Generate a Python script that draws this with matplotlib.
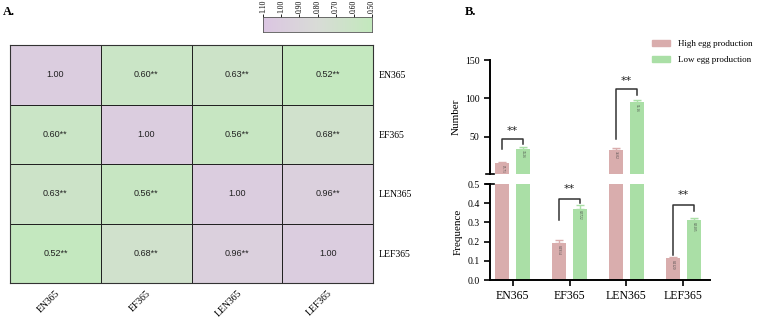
import numpy as np
import matplotlib
matplotlib.use("Agg")
import matplotlib.pyplot as plt
from matplotlib.colors import LinearSegmentedColormap
from matplotlib.patches import Patch

# data
traits = ["EN365", "EF365", "LEN365", "LEF365"]
corr = [
    [1.00, 0.60, 0.63, 0.52],
    [0.60, 1.00, 0.56, 0.68],
    [0.63, 0.56, 1.00, 0.96],
    [0.52, 0.68, 0.96, 1.00],
]
cbar_ticks = [1.10, 1.00, 0.90, 0.80, 0.70, 0.60, 0.50]

high_vals = [15.71, 0.1914, 33.02, 0.1120]
low_vals = [34.26, 0.3722, 95.16, 0.3105]
high_err = [2.0, 0.015, 2.0, 0.008]
low_err = [2.5, 0.02, 2.5, 0.01]
number_idx = [0, 2]   # shown on "Number" scale
freq_idx = [1, 3]     # shown on "Frequence" scale

# bracket heights: (bar, y_top, left leg end, right leg end)
brackets_num = [(0, 47, 34, 41), (2, 112, 47, 104)]
brackets_freq = [(1, 0.42, 0.31, 0.40), (3, 0.39, 0.13, 0.36)]

serif = "Liberation Serif"
pink = "#d9adad"
green = "#aadfa6"

W, H = 759, 318
fig = plt.figure(figsize=(W / 100, H / 100), dpi=100)

def box(x0, y0, x1, y1):
    return [x0 / W, 1 - y1 / H, (x1 - x0) / W, (y1 - y0) / H]

# ---------- A. heatmap ----------
cmap = LinearSegmentedColormap.from_list(
    "pg", [(0.0, "#c3e9bd"), (0.5, "#d9dcd7"), (1.0, "#dcc6e3")])
ax = fig.add_axes(box(10, 45, 373, 283))
arr = np.array(corr)
ax.pcolormesh(arr, cmap=cmap, vmin=0.5, vmax=1.1, edgecolors="#222222", linewidth=0.6)
ax.set_xlim(0, 4)
ax.set_ylim(4, 0)
for i in range(4):
    for j in range(4):
        v = corr[i][j]
        txt = f"{v:.2f}" if i == j else f"{v:.2f}**"
        ax.text(j + 0.5, i + 0.5, txt, ha="center", va="center", fontsize=6.5,
                family="Liberation Sans", color="#222222")
ax.set_xticks(np.arange(4) + 0.5)
ax.set_xticklabels(traits, rotation=45, ha="right", rotation_mode="anchor",
                   family=serif, fontsize=7)
ax.set_yticks(np.arange(4) + 0.5)
ax.set_yticklabels(traits, family=serif, fontsize=7)
ax.yaxis.tick_right()
ax.tick_params(length=0, pad=4)
for s in ax.spines.values():
    s.set_linewidth(0.8)
    s.set_color("#333333")

# colorbar
cax = fig.add_axes(box(263, 17, 372, 32))
grad = np.linspace(0.5, 1.1, 256).reshape(1, -1)
cax.imshow(grad, aspect="auto", cmap=cmap, vmin=0.5, vmax=1.1,
           extent=[0.5, 1.1, 0, 1])
cax.set_xlim(1.1, 0.5)
cax.set_yticks([])
cax.set_xticks(cbar_ticks)
cax.set_xticklabels([f"{t:.2f}" for t in cbar_ticks], rotation=90,
                    family=serif, fontsize=5.5)
cax.xaxis.tick_top()
cax.tick_params(length=2, width=0.6, pad=1)
for s in cax.spines.values():
    s.set_linewidth(0.6)
    s.set_color("#555555")

fig.text(3 / W, 1 - 12 / H, "A.", family=serif, fontweight="bold", fontsize=9,
         va="center")
fig.text(465 / W, 1 - 12 / H, "B.", family=serif, fontweight="bold", fontsize=9,
         va="center")

# ---------- B. broken bar chart ----------
x = np.arange(len(traits))
bw = 0.25
off = 0.185
ax_top = fig.add_axes(box(490, 60, 710, 174))
ax_bot = fig.add_axes(box(490, 184, 710, 280))

for a, ylim in ((ax_top, (1.5, 150)), (ax_bot, (0, 0.5))):
    a.bar(x - off, high_vals, bw, color=pink, zorder=2)
    a.bar(x + off, low_vals, bw, color=green, zorder=2)
    a.set_xlim(-0.4, 3.47)
    a.set_ylim(*ylim)
    a.spines["top"].set_visible(False)
    a.spines["right"].set_visible(False)
    a.spines["left"].set_linewidth(1.4)
    a.spines["bottom"].set_linewidth(1.4)
    a.tick_params(width=1.2, length=4, labelsize=7)
    for lab in a.get_yticklabels():
        lab.set_family(serif)

def errs(a, idx):
    for i in idx:
        a.errorbar(x[i] - off, high_vals[i], yerr=[[0], [high_err[i]]], fmt="none",
                   ecolor=pink, elinewidth=1, capsize=3, capthick=1, zorder=3)
        a.errorbar(x[i] + off, low_vals[i], yerr=[[0], [low_err[i]]], fmt="none",
                   ecolor=green, elinewidth=1, capsize=3, capthick=1, zorder=3)

errs(ax_top, number_idx)
errs(ax_bot, freq_idx)

# values written in bars
for i in number_idx:
    for xx, v in ((x[i] - off, high_vals[i]), (x[i] + off, low_vals[i])):
        ax_top.text(xx, v - 2, f"{v:.2f}", rotation=270, ha="center", va="top",
                    fontsize=2.5, color="#444444", family=serif)
for i in freq_idx:
    for xx, v in ((x[i] - off, high_vals[i]), (x[i] + off, low_vals[i])):
        ax_bot.text(xx, v - 0.01, f"{v:.4f}", rotation=270, ha="center", va="top",
                    fontsize=2.5, color="#444444", family=serif)

def bracket(a, i, ytop, yl, yr, dy):
    xl, xr = x[i] - off, x[i] + off
    a.plot([xl, xl, xr, xr], [yl, ytop, ytop, yr], color="#333333", lw=1.1,
           zorder=4, clip_on=False)
    a.text((xl + xr) / 2, ytop + dy, "**", ha="center", va="center",
           fontsize=8, color="#222222")

for b in brackets_num:
    bracket(ax_top, *b, 10)
for b in brackets_freq:
    bracket(ax_bot, *b, 0.055)

ax_top.spines["bottom"].set_visible(False)
ax_top.set_xticks([])
ax_top.set_yticks([50, 100, 150])
ax_bot.set_yticks([0, 0.1, 0.2, 0.3, 0.4, 0.5])
ax_bot.set_yticklabels(["0.0", "0.1", "0.2", "0.3", "0.4", "0.5"], family=serif)
ax_bot.set_xticks(x)
ax_bot.set_xticklabels(traits, family=serif, fontsize=8.5)

# break marks
ax_top.plot([-0.02, 0.02], [0, 0], transform=ax_top.transAxes, color="black",
            lw=1.2, clip_on=False)
ax_bot.plot([-0.02, 0.02], [1, 1], transform=ax_bot.transAxes, color="black",
            lw=1.2, clip_on=False)

ax_top.set_ylabel("Number", family=serif, fontsize=8, labelpad=3)
ax_bot.set_ylabel("Frequence", family=serif, fontsize=8, labelpad=3)

handles = [Patch(color=pink, label="High egg production"),
           Patch(color=green, label="Low egg production")]
fig.legend(handles=handles, loc="upper left", bbox_to_anchor=(645 / W, 1 - 33 / H),
           frameon=False, prop={"family": serif, "size": 6.5}, handlelength=2.0,
           handleheight=0.6, handletextpad=0.8, labelspacing=0.9, borderpad=0.3)

fig.savefig("out.png", dpi=100)
